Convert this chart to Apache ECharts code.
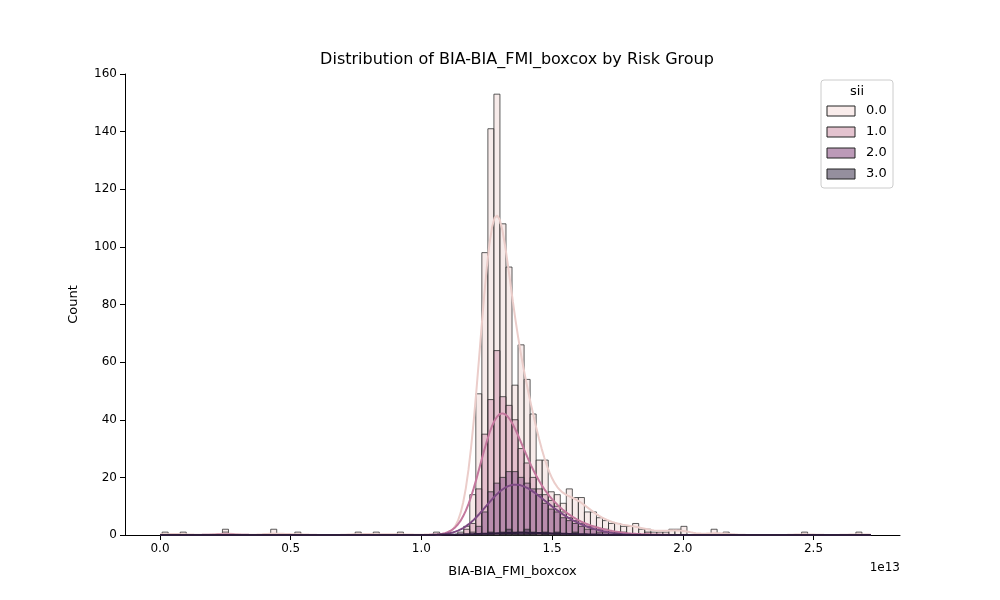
<!DOCTYPE html>
<html><head><meta charset="utf-8">
<script src="https://cdn.jsdelivr.net/npm/echarts@6/dist/echarts.min.js"></script>
<style>body{margin:0}#c{width:1000px;height:600px}</style></head>
<body><div id="c"></div>
<script>
// bins, in units of 1e13
const binStart = 0.008;
const binWidth = 0.02308;
const groups = ['0.0', '1.0', '2.0', '3.0'];
const xTicks = [0, 0.5, 1, 1.5, 2, 2.5];
// counts per bin index (sparse)
const counts0 = {0:1,3:1,10:2,18:2,22:1,32:1,35:1,39:1,45:1,
  50:3,51:14,52:49,53:98,54:141,55:153,56:108,57:93,58:52,59:66,60:54,61:42,62:26,63:26,64:15,65:14,
  66:11,67:16,68:13,69:13,70:8,71:8,72:6,73:5,74:4,75:4,76:3,77:3,78:4,79:2,80:2,81:1,82:1,83:1,
  84:2,85:2,86:3,91:2,93:1,106:1,115:1};
const counts1 = {10:1,49:1,50:2,51:4,52:16,53:35,54:47,55:64,56:48,57:45,58:40,59:30,60:25,61:20,62:16,
  63:14,64:12,65:10,66:8,67:6,68:5,69:4,70:3,71:3,72:2,73:2,74:1,75:1,76:1,80:1};
const counts2 = {51:1,52:3,53:8,54:15,55:18,56:20,57:22,58:22,59:20,60:18,61:16,62:14,63:11,64:9,
  65:8,66:6,67:5,68:4,69:3,70:2,71:2,72:1,73:1};
const counts3 = {54:1,56:1,57:2,58:1,59:1,60:2,61:1,63:1,65:1,68:1};
const allCounts = [counts0, counts1, counts2, counts3];
const fillColors = ['rgba(240,215,213,0.5)', 'rgba(205,140,170,0.45)', 'rgba(130,75,130,0.45)', 'rgba(45,30,62,0.5)'];
const legendFills = ['#f9eceb', '#e4c3cf', '#bc9ab8', '#958f9e'];
const lineColors = ['#ebcdca', '#c4789e', '#7d4a84', '#2e1e3c'];
const bandwidths = [0.042, 0.055, 0.07, 0.12];

const toRows = (c) => Object.keys(c).map(k => {
  const i = +k;
  return [binStart + i * binWidth, binStart + (i + 1) * binWidth, c[k]];
});

// kernel density from the binned counts, scaled to counts per bin
const kde = (c, bw) => {
  const pts = [];
  const keys = Object.keys(c).map(Number);
  for (let x = 0; x <= 2.72; x += 0.01) {
    let s = 0;
    keys.forEach(i => {
      const m = binStart + (i + 0.5) * binWidth;
      const z = (x - m) / bw;
      s += c[i] * Math.exp(-0.5 * z * z) / (bw * Math.sqrt(2 * Math.PI));
    });
    pts.push([x, s * binWidth]);
  }
  return pts;
};

const series = [];
allCounts.forEach((c, g) => {
  series.push({
    type: 'custom', data: toRows(c), z: 2 + g,
    renderItem: (params, api) => {
      const a = api.coord([api.value(0), api.value(2)]);
      const b = api.coord([api.value(1), 0]);
      return { type: 'rect', shape: { x: a[0], y: a[1], width: b[0] - a[0], height: b[1] - a[1] },
        style: { fill: fillColors[g], stroke: 'rgba(40,40,40,0.75)', lineWidth: 1 } };
    }
  });
});
allCounts.forEach((c, g) => {
  series.push({
    type: 'line', data: kde(c, bandwidths[g]), showSymbol: false, z: 10,
    lineStyle: { color: lineColors[g], width: 2 }, silent: true
  });
});

const font = 'DejaVu Sans';
const legendItems = [];
groups.forEach((name, g) => {
  const y = 106 + g * 21;
  legendItems.push({ type: 'rect', shape: { x: 827, y: y, width: 28, height: 10 },
    style: { fill: legendFills[g], stroke: '#222', lineWidth: 1 }, z: 21 });
  legendItems.push({ type: 'text', x: 866, y: y - 2, style: { text: name, fontFamily: font, fontSize: 13, fill: '#000' }, z: 21 });
});

const chart = echarts.init(document.getElementById('c'));
chart.setOption({
  animation: false,
  title: { text: 'Distribution of BIA-BIA_FMI_boxcox by Risk Group', left: 512, top: 47, textAlign: 'center',
    textStyle: { fontFamily: font, fontSize: 16, fontWeight: 'normal', color: '#000' } },
  grid: { left: 125, right: 100, top: 74, bottom: 65 },
  xAxis: {
    type: 'value', min: -0.134, max: 2.831,
    name: 'BIA-BIA_FMI_boxcox', nameLocation: 'middle', nameGap: 30,
    nameTextStyle: { fontFamily: font, fontSize: 13, color: '#000' },
    axisLine: { onZero: false, lineStyle: { color: '#000' } },
    axisTick: { length: 5, lineStyle: { color: '#000' }, customValues: xTicks },
    splitLine: { show: false },
    axisLabel: { color: '#000', fontFamily: font, fontSize: 12, customValues: xTicks, formatter: v => v.toFixed(1) }
  },
  yAxis: {
    type: 'value', min: 0, max: 160, interval: 20,
    name: 'Count', nameLocation: 'middle', nameGap: 45,
    nameTextStyle: { fontFamily: font, fontSize: 13, color: '#000' },
    axisLine: { show: true, onZero: false, lineStyle: { color: '#000' } },
    axisTick: { show: true, length: 5, lineStyle: { color: '#000' } },
    splitLine: { show: false },
    axisLabel: { color: '#000', fontFamily: font, fontSize: 12 }
  },
  graphic: [
    { type: 'rect', shape: { x: 821, y: 80, width: 72, height: 108, r: 3 },
      style: { fill: 'rgba(255,255,255,0.8)', stroke: '#ccc' }, z: 20 },
    { type: 'text', x: 857, y: 85, style: { text: 'sii', fontFamily: font, fontSize: 13, fill: '#000', align: 'center' }, z: 21 },
    { type: 'text', x: 900, y: 562, style: { text: '1e13', fontFamily: font, fontSize: 12, fill: '#000', align: 'right' } }
  ].concat(legendItems),
  series: series
});
</script></body></html>
